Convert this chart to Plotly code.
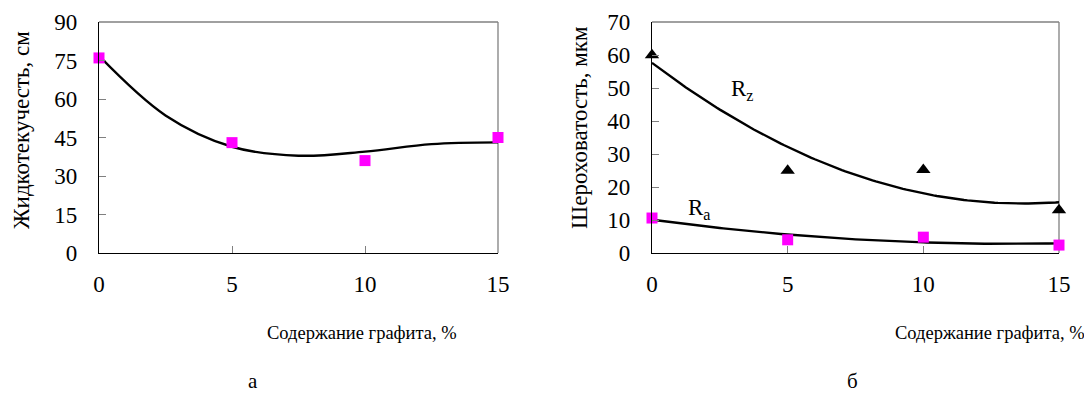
import numpy as np
import plotly.graph_objects as go
from plotly.subplots import make_subplots

# ---- data ----
graphite = [0, 5, 10, 15]
fluidity = [76, 43, 36, 45]                    # Жидкотекучесть, см
fluidity_trend_x = [0, 2.5, 5, 7.5, 10, 12.5, 15]
fluidity_trend_y = [76.8, 53.6, 41.4, 37.9, 39.5, 42.4, 43.1]
rz = [60, 25, 25.2, 13]                        # Rz, мкм
ra = [10.6, 4.0, 4.8, 2.4]                     # Ra, мкм
x_ticks = [0, 5, 10, 15]
y_ticks_a = [0, 15, 30, 45, 60, 75, 90]
y_ticks_b = [0, 10, 20, 30, 40, 50, 60, 70]

W, H = 1084, 396
FONT = "Liberation Serif"
MAG = "#FF00FF"

fig = make_subplots(rows=1, cols=2)

# quadratic trend lines for roughness (least-squares fit of the data)
xs = np.linspace(0, 15, 121)
rz_fit = np.polyval(np.polyfit(graphite, rz, 2), xs)
ra_fit = np.polyval(np.polyfit(graphite, ra, 2), xs)

fig.add_trace(go.Scatter(x=fluidity_trend_x, y=fluidity_trend_y, mode="lines",
                         line=dict(color="black", width=2.4, shape="spline", smoothing=1.0),
                         hoverinfo="skip"), row=1, col=1)
fig.add_trace(go.Scatter(x=graphite, y=fluidity, mode="markers",
                         marker=dict(symbol="square", size=11, color=MAG),
                         cliponaxis=False), row=1, col=1)

fig.add_trace(go.Scatter(x=xs, y=rz_fit, mode="lines",
                         line=dict(color="black", width=2.4), hoverinfo="skip"), row=1, col=2)
fig.add_trace(go.Scatter(x=xs, y=ra_fit, mode="lines",
                         line=dict(color="black", width=2.4), hoverinfo="skip"), row=1, col=2)
fig.add_trace(go.Scatter(x=graphite, y=rz, mode="markers",
                         marker=dict(symbol="triangle-up", size=12.5, color="black"),
                         cliponaxis=False), row=1, col=2)
fig.add_trace(go.Scatter(x=graphite, y=ra, mode="markers",
                         marker=dict(symbol="square", size=11, color=MAG),
                         cliponaxis=False), row=1, col=2)

ydom = [1 - 253 / H, 1 - 22 / H]
axis_common = dict(showgrid=False, zeroline=False, showline=True, linecolor="black",
                   linewidth=1.3, ticks="inside", ticklen=7, tickcolor="#808080",
                   tickwidth=1, automargin=False,
                   tickfont=dict(family=FONT, size=23, color="black"))

fig.update_xaxes(**axis_common, range=[0, 15], tickvals=x_ticks, ticklabelstandoff=10)
fig.update_xaxes(domain=[99 / W, 498 / W], row=1, col=1)
fig.update_xaxes(domain=[652 / W, 1059 / W], row=1, col=2)
fig.update_yaxes(**axis_common, ticklabelstandoff=16)
fig.update_yaxes(domain=ydom, range=[0, 90], tickvals=y_ticks_a, row=1, col=1)
fig.update_yaxes(domain=ydom, range=[0, 70], tickvals=y_ticks_b, row=1, col=2)

# grey frame on top/right
for xr, yr in (("x domain", "y domain"), ("x2 domain", "y2 domain")):
    fig.add_shape(type="line", xref=xr, yref=yr, x0=0, x1=1, y0=1, y1=1,
                  line=dict(color="#808080", width=1.3), layer="below")
    fig.add_shape(type="line", xref=xr, yref=yr, x0=1, x1=1, y0=0, y1=1,
                  line=dict(color="#808080", width=1.3), layer="below")

def ann(text, px, py, size=20, angle=0, yanchor="middle"):
    fig.add_annotation(text=text, x=px / W, y=1 - py / H, xref="paper", yref="paper",
                       showarrow=False, textangle=angle, xanchor="center", yanchor=yanchor,
                       font=dict(family=FONT, size=size, color="black"))

ann("Жидкотекучесть, см", 21, 130, 23, -90)
ann("Шероховатость, мкм", 579, 128, 23, -90)
ann("Содержание графита, %", 362, 333, 18.5)
ann("Содержание графита, %", 990, 333, 18.5)
ann("а", 253, 395, 21, yanchor="bottom")
ann("б", 852, 395, 21, yanchor="bottom")

fig.add_annotation(text="R<sub>z</sub>", x=3.35, y=49.3, xref="x2", yref="y2",
                   showarrow=False, font=dict(family=FONT, size=23, color="black"))
fig.add_annotation(text="R<sub>a</sub>", x=1.75, y=13.3, xref="x2", yref="y2",
                   showarrow=False, font=dict(family=FONT, size=23, color="black"))

fig.update_layout(width=W, height=H, margin=dict(l=0, r=0, t=0, b=0, autoexpand=False),
                  paper_bgcolor="white", plot_bgcolor="white", showlegend=False,
                  font=dict(family=FONT))

fig.write_html("out.html", config={"displayModeBar": False},
               post_script="document.body.style.margin='0px';")
